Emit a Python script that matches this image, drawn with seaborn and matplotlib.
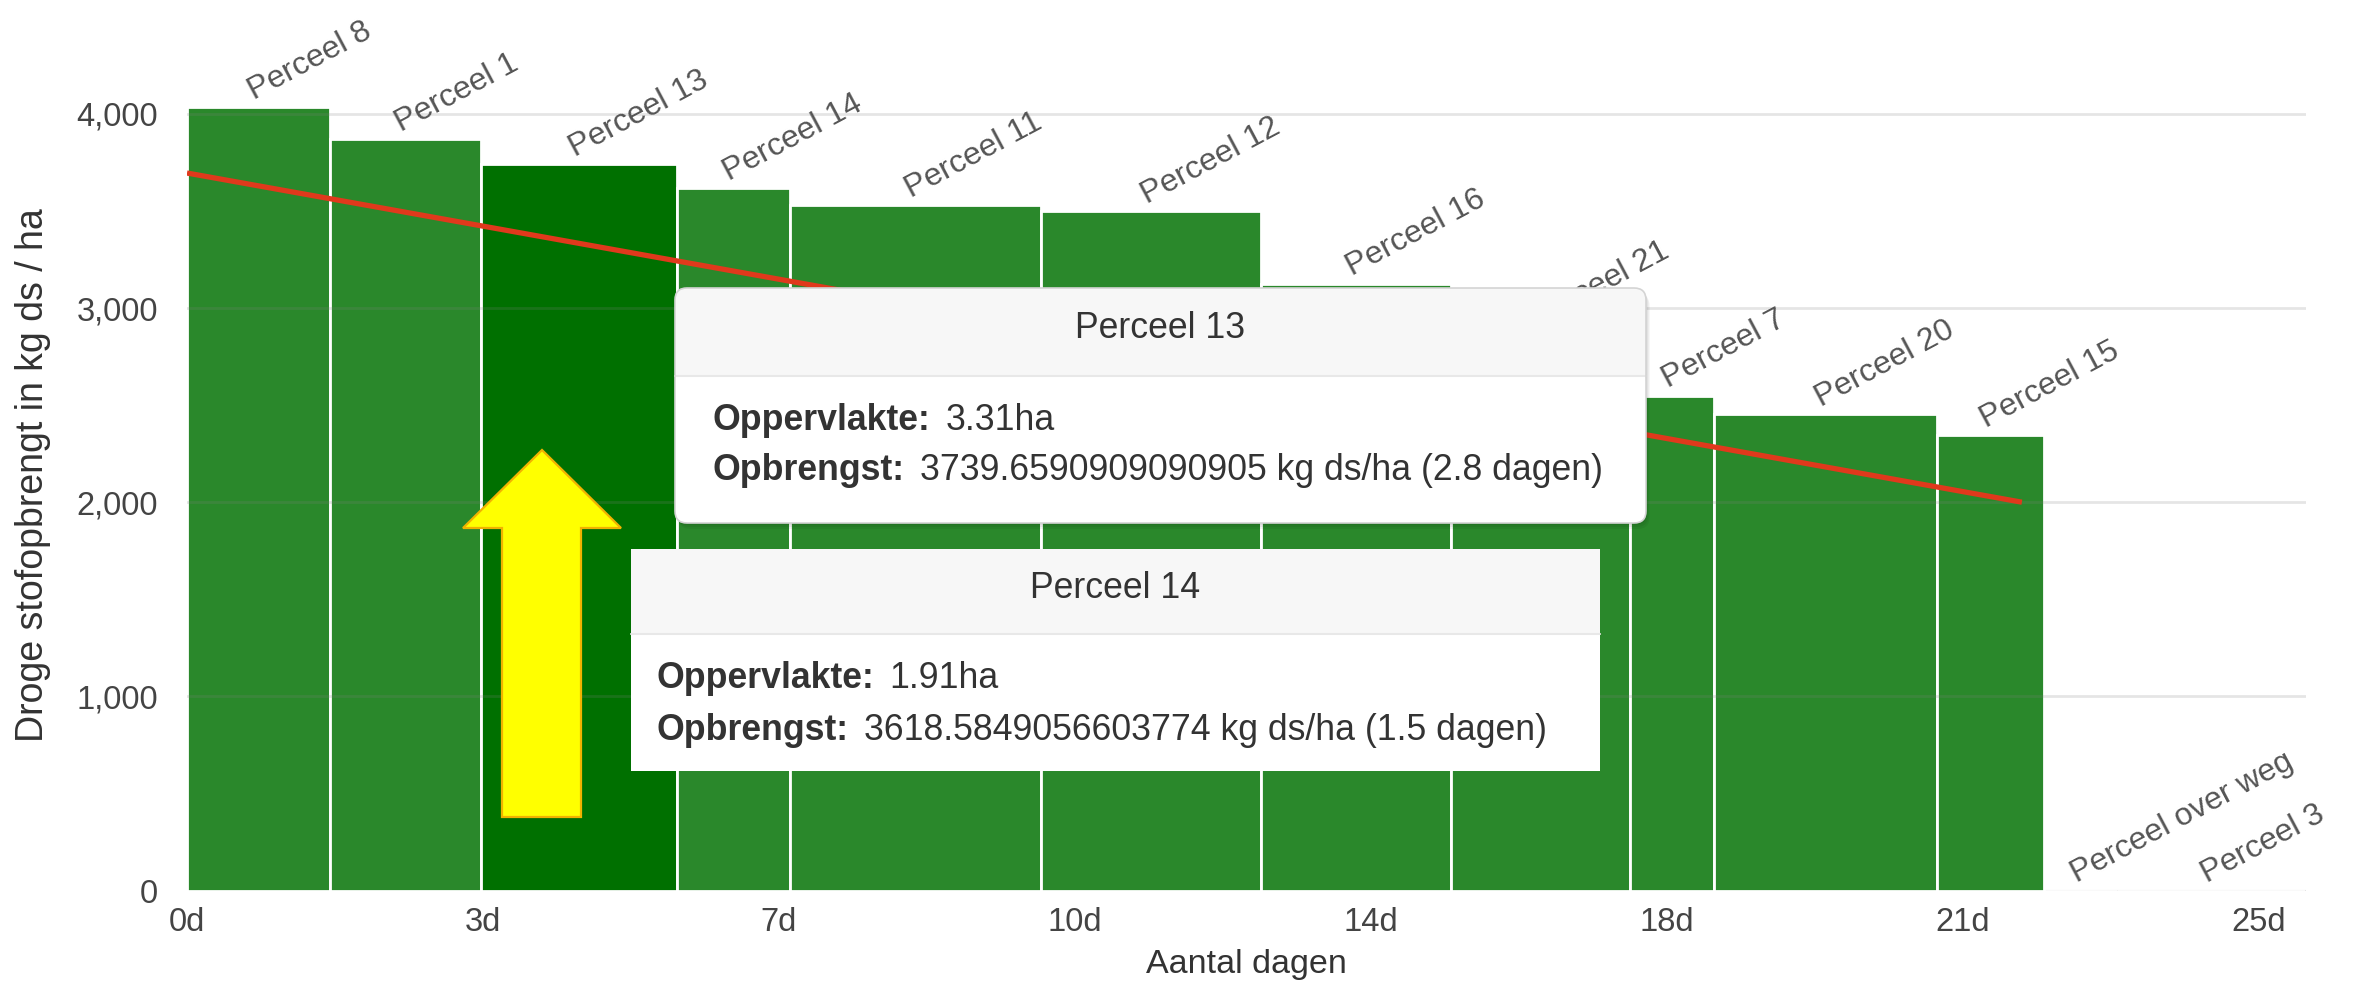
import numpy as np
import pandas as pd
import matplotlib
matplotlib.use("Agg")
import matplotlib.pyplot as plt
import seaborn as sns
from matplotlib.patches import FancyBboxPatch, Rectangle, Polygon

# ---------------- data ----------------
perceel_names = ["Perceel 8", "Perceel 1", "Perceel 13", "Perceel 14", "Perceel 11",
                 "Perceel 12", "Perceel 16", "Perceel 21", "Perceel 7", "Perceel 20",
                 "Perceel 15", "Perceel over weg", "Perceel 3"]
oppervlakte_ha = [2.41, 2.56, 3.31, 1.91, 4.24, 3.71, 3.21, 3.03, 1.41, 3.77, 1.82, 1.23, 3.18]
opbrengst = [4035, 3868, 3739.66, 3618.58, 3531, 3500, 3125, 2860, 2548, 2453, 2344, 0, 0]
highlight = "Perceel 13"

x_tick_pos = [0, 5, 10, 15, 20, 25, 30, 35]
x_tick_labels = ["0d", "3d", "7d", "10d", "14d", "18d", "21d", "25d"]
y_ticks = [0, 1000, 2000, 3000, 4000]
y_tick_labels = ["0", "1,000", "2,000", "3,000", "4,000"]

trend_x = [0.0, 31.0]
trend_y = [3695, 2000]

tip13_title = "Perceel 13"
tip13_rows = [("Oppervlakte:", "3.31ha"),
              ("Opbrengst:", "3739.6590909090905 kg ds/ha (2.8 dagen)")]
tip14_title = "Perceel 14"
tip14_rows = [("Oppervlakte:", "1.91ha"),
              ("Opbrengst:", "3618.5849056603774 kg ds/ha (1.5 dagen)")]

# ---------------- style ----------------
sns.set_theme(style="white")
plt.rcParams["font.family"] = ["Liberation Sans", "DejaVu Sans"]

W, H = 2379, 991
fig = plt.figure(figsize=(W / 100, H / 100), dpi=100)
fig.patch.set_facecolor("white")

L, R = 187, 2306
Y0 = 890.6
ax = fig.add_axes([L / W, (H - Y0) / H, (R - L) / W, Y0 / H])
ax.set_facecolor("none")

edges = [0.0] + [float(v) for v in np.cumsum(oppervlakte_ha)]
centers = [(a + b) / 2 for a, b in zip(edges[:-1], edges[1:])]
df = pd.DataFrame({"perceel": perceel_names, "center": centers, "opbrengst": opbrengst})

BAR = "#2a882b"
BAR_HL = "#007000"
sns.histplot(data=df, x="center", weights="opbrengst", bins=edges, stat="count",
             color=BAR, alpha=1, edgecolor="white", linewidth=2.0, ax=ax, zorder=2)
for patch, name in zip(ax.patches, perceel_names):
    patch.set_facecolor(BAR_HL if name == highlight else BAR)

ax.set_xlim(0, 35.8)
ax.set_ylim(0, 4586)

# gridlines (semi-transparent so they show faintly over the bars)
for yv in y_ticks[1:]:
    ax.axhline(yv, color="#808080", alpha=0.2, lw=2.0, zorder=3)
ax.axhline(0, color="#d0d0d0", lw=2.2, zorder=1)

# trend line
sns.lineplot(x=trend_x, y=trend_y, color="#e0391c", linewidth=3.8, ax=ax, zorder=4,
             solid_capstyle="butt")

# data labels
for name, cx, h in zip(perceel_names, centers, opbrengst):
    ax.annotate(name, xy=(cx, h), xytext=(-3, 5.3), textcoords="offset points",
                rotation=28, rotation_mode="anchor", ha="left", va="baseline",
                fontsize=23, color="#555555", zorder=5, annotation_clip=False)

for s in ax.spines.values():
    s.set_visible(False)
ax.set_xticks(x_tick_pos)
ax.set_xticklabels(x_tick_labels)
ax.set_yticks(y_ticks)
ax.set_yticklabels(y_tick_labels)
ax.tick_params(axis="x", length=0, pad=12, labelsize=23.5, labelcolor="#444444")
ax.tick_params(axis="y", length=0, pad=21, labelsize=23.5, labelcolor="#444444")
ax.grid(False)

ax.set_xlabel("Aantal dagen", fontsize=24.5, color="#333333")
ax.xaxis.set_label_coords(0.5, -0.0835)
ax.xaxis.label.set_va("center")
ax.set_ylabel("Droge stofopbrengt in kg ds / ha", fontsize=27, color="#333333")
ax.yaxis.set_label_coords(-0.0727, 0.4667)
ax.yaxis.label.set_va("center")
ax.yaxis.label.set_ha("center")

# ---------------- overlay: arrow + tooltips ----------------
ov = fig.add_axes([0, 0, 1, 1])
ov.set_xlim(0, W)
ov.set_ylim(H, 0)
ov.axis("off")
ov.set_zorder(10)

arrow = Polygon([(502, 817), (502, 528), (463, 528), (542, 450), (621, 528),
                 (581, 528), (581, 817)], closed=True, facecolor="#ffff00",
                edgecolor="#f2b200", lw=1.6, zorder=2)
ov.add_patch(arrow)

TXT = "#333333"
FS = 25.7


def rows_text(x, ys, rows):
    fig.canvas.draw()
    r = fig.canvas.get_renderer()
    for (lab, val), yy in zip(rows, ys):
        t = ov.text(x, yy, lab, fontsize=FS, fontweight="bold", color=TXT,
                    ha="left", va="center", zorder=6)
        bb = t.get_window_extent(renderer=r)
        ov.text(bb.x1 + 15, yy, val, fontsize=FS, color=TXT, ha="left",
                va="center", zorder=6)


# tooltip 13 (rounded, with shadow)
x0, y0, x1, y1, ysep, rr = 675, 288, 1646, 523, 376, 12
for k in (6, 4, 2):
    ov.add_patch(FancyBboxPatch((x0 + k * 0.6, y0 + k), x1 - x0, y1 - y0,
                                boxstyle=f"round,pad=0,rounding_size={rr}",
                                facecolor="black", edgecolor="none", alpha=0.05, zorder=3))
ov.add_patch(FancyBboxPatch((x0, y0), x1 - x0, y1 - y0,
                            boxstyle=f"round,pad=0,rounding_size={rr}",
                            facecolor="white", edgecolor="none", zorder=4))
ov.add_patch(FancyBboxPatch((x0, y0), x1 - x0, ysep - y0 + rr,
                            boxstyle=f"round,pad=0,rounding_size={rr}",
                            facecolor="#f7f7f7", edgecolor="none", zorder=4.1))
ov.add_patch(Rectangle((x0 + 1, ysep), x1 - x0 - 2, rr + 2, facecolor="white",
                       edgecolor="none", zorder=4.2))
ov.plot([x0, x1], [ysep, ysep], color="#e8e8e8", lw=1.5, zorder=4.3)
ov.add_patch(FancyBboxPatch((x0, y0), x1 - x0, y1 - y0,
                            boxstyle=f"round,pad=0,rounding_size={rr}",
                            facecolor="none", edgecolor="#d4d4d4", lw=1.2, zorder=4.4))
ov.text((x0 + x1) / 2, 329, tip13_title, fontsize=FS, color=TXT, ha="center",
        va="center", zorder=6)
rows_text(713, [420, 470], tip13_rows)

# tooltip 14 (square)
x0, y0, x1, y1, ysep = 631, 549, 1600, 771, 634
ov.add_patch(Rectangle((x0, y0), x1 - x0, y1 - y0, facecolor="white",
                       edgecolor="none", zorder=4))
ov.add_patch(Rectangle((x0, y0), x1 - x0, ysep - y0, facecolor="#f7f7f7",
                       edgecolor="none", zorder=4.1))
ov.plot([x0, x1], [ysep, ysep], color="#e8e8e8", lw=1.5, zorder=4.3)
ov.text((x0 + x1) / 2, 589, tip14_title, fontsize=FS, color=TXT, ha="center",
        va="center", zorder=6)
rows_text(657, [678, 731], tip14_rows)

fig.savefig("out.png", dpi=100, facecolor="white")
